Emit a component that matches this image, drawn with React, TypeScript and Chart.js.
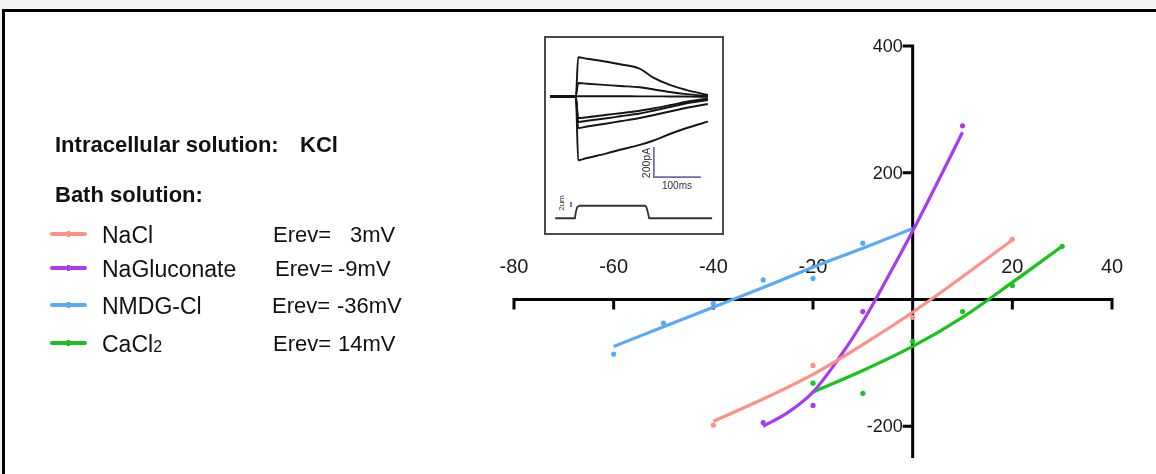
import React, { useEffect, useRef } from "react";
import { Chart, registerables } from "chart.js";

Chart.register(...registerables);

const FONT = '"Liberation Sans", Arial, Helvetica, sans-serif';

// Current–voltage data (membrane potential in mV, current in pA)
const naclV = [-40, -20, 0, 20];
const naclI = [-198, -104, -28, 95];
const naclFitV = [-40, -30, -20, -10, 0, 10, 20];
const naclFit = [-192, -157, -118, -71, -20, 36, 94];

const glucV = [-30, -20, -10, 10];
const glucI = [-194, -167, -19, 274];
const glucFitV = [-30, -25, -20, -15, -10, -5, 0, 5, 10];
const glucFit = [-200, -178, -146, -95, -35, 35, 108, 185, 264];

const nmdgV = [-60, -50, -40, -30, -20, -10];
const nmdgI = [-86, -37, -6, 31, 33, 89];
const nmdgFitV = [-60, -50, -40, -30, -20, -10, 0];
const nmdgFit = [-74, -43, -12, 19, 51, 81, 112];

const cacl2V = [-20, -10, 0, 10, 20, 30];
const cacl2I = [-132, -148, -66, -19, 22, 84];
const cacl2FitV = [-20, -10, 0, 10, 20, 30];
const cacl2Fit = [-146, -112, -74, -28, 27, 84];

const xTickMarks = [-80, -60, -40, -20, 0, 20, 40];
const xTickLabels = [-80, -60, -40, -20, 20, 40];
const yTickMarks = [400, 200, -200];
const yTickLabels = [400, 200, -200];

// Inset: current traces (time in ms, current in pA)
const traceTimes = [0, 55, 60, 79, 121, 149, 191, 219, 255, 291, 336];
const trace1 = [0, 0, 262, 252, 232, 215, 185, 128, 77, 43, 10];
const trace2 = [0, 0, 90, 85, 76, 70, 62, 48, 30, 16, 4];
const trace3 = [0, 0, 2, 2, 2, 2, 1, 1, 0, 0, -2];
const trace4 = [0, 0, -143, -138, -122, -112, -95, -80, -58, -35, -13];
const trace5 = [0, 0, -170, -162, -145, -132, -113, -95, -70, -45, -23];
const trace6 = [0, 0, -210, -200, -180, -165, -143, -125, -100, -75, -50];
const trace7 = [0, 0, -425, -410, -379, -355, -323, -295, -250, -210, -168];

// Inset: displacement step (time in ms, µm)
const stepTimes = [11, 53, 55, 58, 63, 202, 205, 208, 211, 345];
const stepUm = [0, 0, 2.5, 4.5, 5, 5, 4.5, 2.5, 0, 0];

// Inset scale bars
const barPaT = [221, 221, 321];
const barPaI = [-337, -537, -537];
const barUmT = [44.7, 44.7];
const barUmV = [4.5, 6.5];

const series = [
  { name: "NaCl", color: "#ff9087", v: naclV, i: naclI, fitV: naclFitV, fit: naclFit, erev: "3mV" },
  { name: "NaGluconate", color: "#a83bf0", v: glucV, i: glucI, fitV: glucFitV, fit: glucFit, erev: "-9mV" },
  { name: "NMDG-Cl", color: "#58aaf6", v: nmdgV, i: nmdgI, fitV: nmdgFitV, fit: nmdgFit, erev: "-36mV" },
  { name: "CaCl2", color: "#19c21c", v: cacl2V, i: cacl2I, fitV: cacl2FitV, fit: cacl2Fit, erev: "14mV" },
];

const pairs = (xs: number[], ys: number[]) => xs.map((x, k) => ({ x, y: ys[k] }));

// Axes crossing at the origin, labels on the upper / left side
const crossAxes = {
  id: "crossAxes",
  beforeDatasetsDraw(chart: any) {
    const { ctx } = chart;
    const xs = chart.scales.x;
    const ys = chart.scales.y;
    const x0 = xs.getPixelForValue(0);
    const y0 = ys.getPixelForValue(0);
    ctx.save();
    ctx.strokeStyle = "#000";
    ctx.lineWidth = 3;
    ctx.lineCap = "butt";
    ctx.beginPath();
    ctx.moveTo(xs.getPixelForValue(xs.min) - 1.5, y0);
    ctx.lineTo(xs.getPixelForValue(xs.max) + 1.5, y0);
    ctx.moveTo(x0, ys.getPixelForValue(ys.max) - 1.5);
    ctx.lineTo(x0, ys.getPixelForValue(ys.min));
    xTickMarks.forEach((v) => {
      const px = xs.getPixelForValue(v);
      ctx.moveTo(px, y0);
      ctx.lineTo(px, y0 + 10);
    });
    yTickMarks.forEach((v) => {
      const py = ys.getPixelForValue(v);
      ctx.moveTo(x0, py);
      ctx.lineTo(x0 - 10, py);
    });
    ctx.stroke();

    ctx.fillStyle = "#1a1a1a";
    ctx.font = `20px ${FONT}`;
    ctx.textAlign = "center";
    ctx.textBaseline = "middle";
    xTickLabels.forEach((v) => {
      ctx.fillText(String(v), xs.getPixelForValue(v), y0 - 32);
    });
    ctx.font = `18px ${FONT}`;
    ctx.textAlign = "right";
    yTickLabels.forEach((v) => {
      ctx.fillText(String(v), x0 - 10, ys.getPixelForValue(v) + 1);
    });
    ctx.restore();
  },
};

const textStyle = (left: number, top: number, size: number, bold = false): React.CSSProperties => ({
  position: "absolute",
  left,
  top,
  fontSize: size,
  lineHeight: 1,
  fontWeight: bold ? 700 : 400,
  color: "#111",
  whiteSpace: "nowrap",
});

export default function App() {
  const mainRef = useRef<HTMLCanvasElement>(null);
  const insetRef = useRef<HTMLCanvasElement>(null);

  useEffect(() => {
    const main = new Chart(mainRef.current!, {
      type: "scatter",
      data: {
        datasets: series.flatMap((s) => [
          {
            label: `${s.name} fit`,
            data: pairs(s.fitV, s.fit),
            showLine: true,
            pointRadius: 0,
            borderWidth: 3.2,
            borderColor: s.color,
            backgroundColor: s.color,
            cubicInterpolationMode: "monotone",
          },
          {
            label: s.name,
            data: pairs(s.v, s.i),
            showLine: false,
            pointRadius: 2.6,
            pointBorderWidth: 0,
            backgroundColor: s.color,
            borderColor: s.color,
          },
        ]) as any,
      },
      options: {
        animation: false,
        responsive: false,
        events: [],
        layout: { padding: { left: 514, right: 44, top: 46, bottom: 16 } },
        scales: {
          x: { type: "linear", min: -80, max: 40, display: false },
          y: { type: "linear", min: -250, max: 400, display: false },
        },
        plugins: { legend: { display: false }, tooltip: { enabled: false } },
      },
      plugins: [crossAxes],
    });

    const traceColor = "#151515";
    const traces = [trace1, trace2, trace3, trace4, trace5, trace6, trace7];
    const inset = new Chart(insetRef.current!, {
      type: "scatter",
      data: {
        datasets: [
          ...traces.map((tr, k) => ({
            label: `trace ${k + 1}`,
            data: pairs(traceTimes, tr),
            showLine: true,
            pointRadius: 0,
            borderWidth: 1.9,
            borderColor: traceColor,
            cubicInterpolationMode: "monotone",
            yAxisID: "y",
          })),
          {
            label: "step",
            data: pairs(stepTimes, stepUm),
            showLine: true,
            pointRadius: 0,
            borderWidth: 1.8,
            borderColor: "#333",
            yAxisID: "y2",
          },
          {
            label: "200 pA / 100 ms",
            data: pairs(barPaT, barPaI),
            showLine: true,
            pointRadius: 0,
            borderWidth: 1.7,
            borderColor: "#6a6ab4",
            yAxisID: "y",
          },
          {
            label: "2 um",
            data: pairs(barUmT, barUmV),
            showLine: true,
            pointRadius: 0,
            borderWidth: 1.7,
            borderColor: "#5a5ad0",
            yAxisID: "y2",
          },
        ] as any,
      },
      options: {
        animation: false,
        responsive: false,
        events: [],
        layout: { padding: 0 },
        scales: {
          x: { type: "linear", min: -8.5, max: 366, display: false },
          y: { type: "linear", min: -910, max: 390, display: false },
          y2: { type: "linear", min: -5.9, max: 72.1, display: false },
        },
        plugins: { legend: { display: false }, tooltip: { enabled: false } },
      },
    });

    return () => {
      main.destroy();
      inset.destroy();
    };
  }, []);

  const rowBaselines = [243, 277, 314, 352];
  const erevLeft = [273, 275, 272, 273];
  const valueLeft = [350, 338, 337, 338];

  return (
    <div
      style={{
        position: "fixed",
        left: 0,
        top: 0,
        width: 1156,
        height: 474,
        overflow: "hidden",
        background: "#f4f4f4",
        fontFamily: FONT,
      }}
    >
      <div
        style={{
          position: "absolute",
          left: 2,
          top: 9,
          width: 1300,
          height: 700,
          border: "3px solid #000",
          background: "#fff",
        }}
      />
      <canvas ref={mainRef} width={1156} height={474} style={{ position: "absolute", left: 0, top: 0 }} />

      <div style={textStyle(55, 134, 22, true)}>Intracellular solution:</div>
      <div style={textStyle(300, 134, 22, true)}>KCl</div>
      <div style={textStyle(55, 184, 22, true)}>Bath solution:</div>

      {series.map((s, k) => {
        const base = rowBaselines[k];
        const midY = base - 9;
        return (
          <React.Fragment key={s.name}>
            <div
              style={{
                position: "absolute",
                left: 50,
                top: midY - 2,
                width: 37,
                height: 4,
                borderRadius: 2,
                background: s.color,
              }}
            />
            <div
              style={{
                position: "absolute",
                left: 67,
                top: midY - 3,
                width: 3,
                height: 6,
                background: s.color,
              }}
            />
            <div style={textStyle(102, base - 19.5, 23)}>
              {s.name === "CaCl2" ? (
                <>
                  CaCl<span style={{ fontSize: 16 }}>2</span>
                </>
              ) : (
                s.name
              )}
            </div>
            <div style={textStyle(erevLeft[k], base - 18.6, 22)}>Erev=</div>
            <div style={textStyle(valueLeft[k], base - 18.6, 22)}>{s.erev}</div>
          </React.Fragment>
        );
      })}

      <div
        style={{
          position: "absolute",
          left: 544,
          top: 36,
          width: 180,
          height: 199,
          boxSizing: "border-box",
          border: "2px solid #4a4a4a",
          background: "#fff",
        }}
      />
      <canvas ref={insetRef} width={176} height={195} style={{ position: "absolute", left: 546, top: 38 }} />
      <div
        style={{
          position: "absolute",
          left: 646,
          top: 163,
          fontSize: 10.5,
          lineHeight: 1,
          color: "#333",
          transform: "translate(-50%, -50%) rotate(-90deg)",
          whiteSpace: "nowrap",
        }}
      >
        200pA
      </div>
      <div
        style={{
          position: "absolute",
          left: 677,
          top: 186,
          fontSize: 10,
          lineHeight: 1,
          color: "#333",
          transform: "translate(-50%, -50%)",
          whiteSpace: "nowrap",
        }}
      >
        100ms
      </div>
      <div
        style={{
          position: "absolute",
          left: 562,
          top: 203,
          fontSize: 8,
          lineHeight: 1,
          color: "#333",
          transform: "translate(-50%, -50%) rotate(-90deg)",
          whiteSpace: "nowrap",
        }}
      >
        2um
      </div>
    </div>
  );
}
